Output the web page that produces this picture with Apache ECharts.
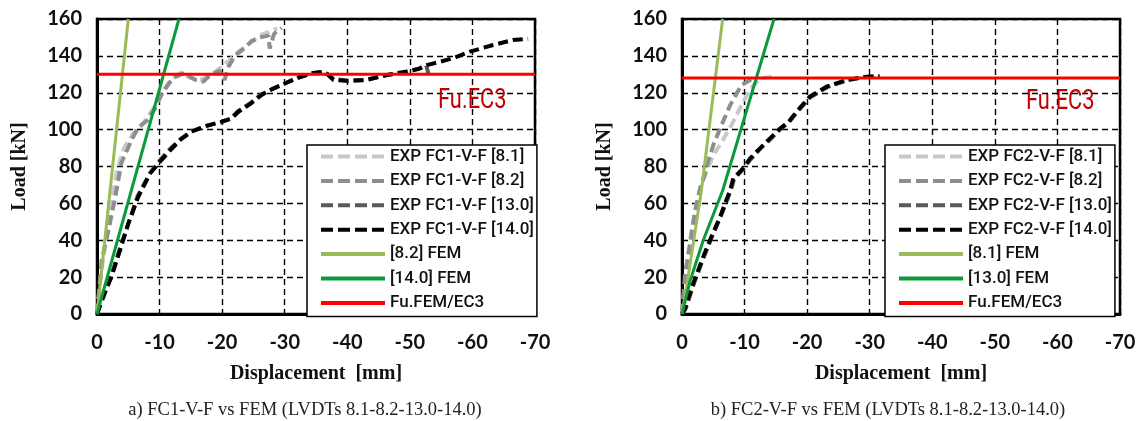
<!DOCTYPE html>
<html>
<head>
<meta charset="utf-8">
<script src="https://cdn.jsdelivr.net/npm/echarts@6/dist/echarts.min.js"></script>
<style>
html,body{margin:0;padding:0;background:#fff;}
#c{width:1141px;height:421px;}
</style>
</head>
<body>
<div id="c"></div>
<script>
// ---------- Data (displacement [mm], load [kN]) ----------
var xTicks = [0, -10, -20, -30, -40, -50, -60, -70];
var yTicks = [0, 20, 40, 60, 80, 100, 120, 140, 160];

// Chart a) FC1-V-F
var a_names = ['EXP FC1-V-F [8.1]', 'EXP FC1-V-F [8.2]', 'EXP FC1-V-F [13.0]', 'EXP FC1-V-F [14.0]', '[8.2] FEM', '[14.0] FEM', 'Fu.FEM/EC3'];
var a_81_x = [0, -0.6, -1.4, -2.3, -3.2, -4.3, -5.8, -7.5, -9.3, -10.8, -12.0, -13.5, -15.0, -16.5, -18.0, -19.5, -21.0, -22.5, -24.5, -26.0, -27.5, -28.8];
var a_81_y = [0, 20, 40, 60, 78, 90, 98, 104, 113, 122, 128, 131, 128, 127, 129, 133, 137, 142, 147, 151, 153, 155];
var a_82_x = [0, -0.75, -1.8, -2.9, -3.9, -4.7, -5.6, -6.6, -8.0, -9.2, -10.3, -11.3, -12.2, -13.8, -15.7, -17.0, -17.8, -19.0, -19.6, -20.4, -21.0, -22.0, -23.5, -24.7, -26.0, -27.4, -27.6, -28.3, -29.5];
var a_82_y = [0, 29, 45, 63, 82, 88, 95, 101, 105, 111, 119, 124, 128, 130.5, 127, 126, 128.7, 131, 132, 127, 134, 140, 144, 148, 150, 151, 144, 152, 155];
var a_130_x = [0, -0.8, -2.2, -3.6, -5.0, -6.5, -8.4, -10.2, -11.8, -13.4, -15.0, -17.4, -19.8, -21.4, -22.5, -24.4, -26.2, -28.0, -30.0, -32.0, -34.2, -36.3, -37.8, -40.0, -43.0, -46.2, -49.4, -51.4, -52.6, -53.2];
var a_130_y = [0, 7, 20, 35, 49, 64, 76, 84, 90, 95, 99, 102, 104, 106, 110, 114, 119, 122, 125, 128, 130.5, 131.5, 127.5, 126.5, 127, 129.5, 131.5, 133, 135, 127.5];
var a_140_x = [0, -0.75, -2.3, -3.7, -5.0, -6.6, -8.5, -10.3, -11.9, -13.5, -15.1, -17.5, -19.9, -21.5, -22.6, -24.5, -26.3, -28.0, -30.0, -32.0, -34.3, -36.4, -37.8, -40.0, -43.0, -46.3, -49.5, -51.5, -52.7, -54.5, -56.9, -59.6, -63.3, -66.5, -68.9];
var a_140_y = [0, 7.6, 20, 34.7, 49, 63.6, 76.3, 83.5, 89.5, 95, 98.9, 102, 104.3, 106, 109.7, 114, 118.8, 122, 125, 128, 130.5, 131.4, 126.9, 126.5, 126.9, 129.6, 131.4, 133, 135, 136.5, 138.7, 142.3, 145.9, 148.6, 149.2];
var a_fem1_x = [0, -5.0];
var a_fem1_y = [0, 160];
var a_fem2_x = [0, -13.1];
var a_fem2_y = [0, 160];
var a_fu_x = [0, -70];
var a_fu_y = [130, 130];

// Chart b) FC2-V-F
var b_names = ['EXP FC2-V-F [8.1]', 'EXP FC2-V-F [8.2]', 'EXP FC2-V-F [13.0]', 'EXP FC2-V-F [14.0]', '[8.1] FEM', '[13.0] FEM', 'Fu.FEM/EC3 '];
var b_81_x = [0, -0.4, -0.9, -1.5, -2.2, -3.0, -3.9, -5.0, -6.3, -7.9, -9.8, -10.9, -12.5, -14.3];
var b_81_y = [0, 15, 30, 45, 58, 70, 77, 86, 93, 102.5, 115, 122, 127.8, 128.7];
var b_82_x = [0, -0.5, -1.3, -2.1, -2.9, -3.4, -4.2, -5.0, -6.1, -7.7, -9.5, -10.9, -11.5];
var b_82_y = [0, 22, 38, 56, 68, 73, 83, 91.6, 100.7, 113.3, 124.2, 126.9, 128];
var b_130_x = [0, -0.6, -1.9, -3.5, -4.8, -6.2, -7.8, -8.3, -9.6, -11.0, -12.6, -13.6, -15.8, -17.1, -18.4, -20.5, -23.2, -26.4, -29.5, -31.2];
var b_130_y = [0, 3, 16.5, 31, 42, 53, 67, 73, 78, 84, 90, 93, 100.5, 104, 109.5, 117.5, 123, 126.8, 128.6, 129];
var b_140_x = [0, -0.5, -1.8, -3.4, -4.7, -6.1, -7.7, -8.2, -9.5, -10.9, -12.5, -13.5, -15.7, -17.0, -18.3, -20.4, -23.1, -26.3, -29.5, -31.6];
var b_140_y = [0, 3, 16.6, 31, 41.9, 52.8, 67.2, 73.6, 78, 84.4, 90, 93.4, 100.7, 104, 109.7, 117.8, 123.3, 126.9, 128.7, 129];
var b_fem1_x = [0, -0.75, -3.1, -6.5];
var b_fem1_y = [0, 15, 67, 160];
var b_fem2_x = [0, -1.3, -3.4, -6.5, -14.7];
var b_fem2_y = [0, 18, 40, 67, 160];
var b_fu_x = [0, -70];
var b_fu_y = [128, 128];

// ---------- Build ----------
function pts(xs, ys) { return xs.map(function (x, i) { return [x, ys[i]]; }); }

var colors = ['#c8c8c8', '#8e8e8e', '#5a5a5a', '#000000', '#9bbb59', '#0a9a3c', '#ff0000'];
var dashed = [10, 5];

function makeSeries(names, dataSets, idx) {
  return dataSets.map(function (d, i) {
    return {
      name: names[i],
      type: 'line',
      xAxisIndex: idx, yAxisIndex: idx,
      data: d,
      symbol: 'none',
      showSymbol: false,
      smooth: false,
      silent: true,
      animation: false,
      lineStyle: { color: colors[i], width: i < 4 ? 4 : 3, type: i < 4 ? dashed : 'solid' },
      itemStyle: { color: colors[i] },
      z: 2 + i
    };
  });
}

var aSets = [pts(a_81_x, a_81_y), pts(a_82_x, a_82_y), pts(a_130_x, a_130_y), pts(a_140_x, a_140_y), pts(a_fem1_x, a_fem1_y), pts(a_fem2_x, a_fem2_y), pts(a_fu_x, a_fu_y)];
var bSets = [pts(b_81_x, b_81_y), pts(b_82_x, b_82_y), pts(b_130_x, b_130_y), pts(b_140_x, b_140_y), pts(b_fem1_x, b_fem1_y), pts(b_fem2_x, b_fem2_y), pts(b_fu_x, b_fu_y)];

var tickFont = { fontFamily: 'Lato, "Open Sans", sans-serif', fontWeight: 'bold', fontSize: 20, color: '#111' };
var titleFont = { fontFamily: '"Liberation Serif", "Times New Roman", serif', fontWeight: 'bold', fontSize: 20, color: '#111' };
var legendFont = 'Roboto, "Liberation Sans", sans-serif';

function xAx(i) {
  return {
    gridIndex: i, type: 'value', min: -70, max: 0, interval: 10, inverse: true,
    axisLine: { show: true, onZero: false, lineStyle: { color: '#000', width: 3 } },
    axisTick: { show: false },
    axisLabel: Object.assign({ margin: 19 }, tickFont),
    splitLine: { show: true, lineStyle: { color: '#000', width: 1.4, type: [6, 4] } },
    name: 'Displacement  [mm]', nameLocation: 'middle', nameGap: 50,
    nameTextStyle: titleFont
  };
}
function yAx(i) {
  return {
    gridIndex: i, type: 'value', min: 0, max: 160, interval: 20,
    axisLine: { show: true, onZero: false, lineStyle: { color: '#000', width: 3 } },
    axisTick: { show: false },
    axisLabel: Object.assign({ margin: 15 }, tickFont),
    splitLine: { show: true, lineStyle: { color: '#000', width: 1.4, type: [6, 4] } },
    name: 'Load [kN]', nameLocation: 'middle', nameGap: 67,
    nameTextStyle: titleFont
  };
}
function leg(names, left) {
  return {
    show: true,
    data: names.map(function (n, i) {
      return {
        name: n,
        itemStyle: { opacity: 0 },
        lineStyle: { width: 4, color: colors[i], type: i < 4 ? [12, 5] : 'solid', opacity: 1 }
      };
    }),
    orient: 'vertical',
    left: left, top: 145,
    itemWidth: 64, itemHeight: 18, itemGap: 7.4,
    padding: [3, 3, 5, 12],
    backgroundColor: '#fff',
    borderColor: '#000', borderWidth: 1.5,
    selectedMode: false,
    textStyle: { fontFamily: legendFont, fontSize: 17, fontWeight: 500, color: '#111' },
    z: 20
  };
}

var chart = echarts.init(document.getElementById('c'), null, { renderer: 'canvas' });
chart.setOption({
  backgroundColor: '#fff',
  animation: false,
  grid: [
    { left: 97, top: 19, width: 438, height: 295, show: true, borderColor: '#000', borderWidth: 2.5, backgroundColor: 'transparent' },
    { left: 682, top: 19, width: 438, height: 295, show: true, borderColor: '#000', borderWidth: 2.5, backgroundColor: 'transparent' }
  ],
  xAxis: [xAx(0), xAx(1)],
  yAxis: [yAx(0), yAx(1)],
  legend: [leg(a_names, 307), leg(b_names, 885)],
  series: makeSeries(a_names, aSets, 0).concat(makeSeries(b_names, bSets, 1)),
  graphic: [
    { type: 'text', left: 438, top: 87, scaleX: 0.78, style: { text: 'Fu.EC3', font: '28px Roboto, sans-serif', fill: '#c00000' }, z: 30 },
    { type: 'text', left: 1026, top: 88, scaleX: 0.78, style: { text: 'Fu.EC3', font: '28px Roboto, sans-serif', fill: '#c00000' }, z: 30 },
    { type: 'text', x: 305, y: 410, style: { text: 'a) FC1-V-F vs FEM (LVDTs 8.1-8.2-13.0-14.0)', font: '18.5px "Liberation Serif", "Times New Roman", serif', fill: '#222', textAlign: 'center', textVerticalAlign: 'middle' } },
    { type: 'text', x: 888, y: 410, style: { text: 'b) FC2-V-F vs FEM (LVDTs 8.1-8.2-13.0-14.0)', font: '18.5px "Liberation Serif", "Times New Roman", serif', fill: '#222', textAlign: 'center', textVerticalAlign: 'middle' } }
  ]
});
</script>
</body>
</html>
